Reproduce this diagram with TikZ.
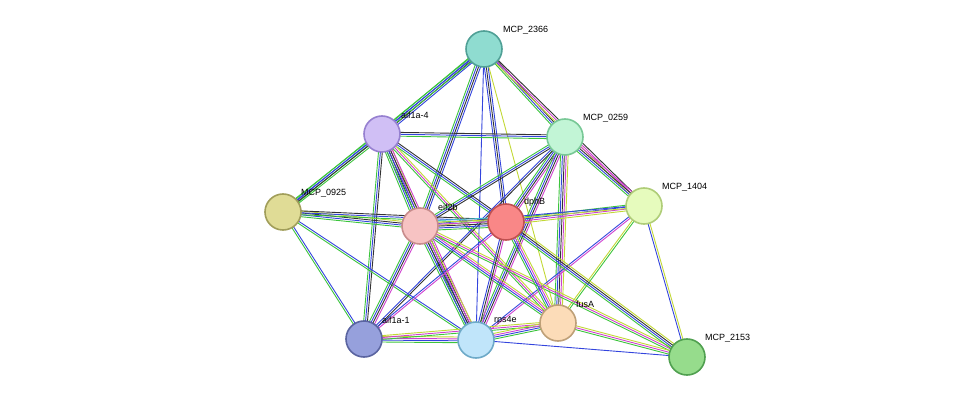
\documentclass[tikz,border=0pt]{standalone}
\usepackage{fontspec}
\setmainfont{Liberation Sans}
\usetikzlibrary{calc}
\pgfdeclarelayer{bg}
\pgfsetlayers{bg,main}
\definecolor{eg}{HTML}{3CC43C}
\definecolor{eb}{HTML}{3344DD}
\definecolor{ek}{HTML}{333333}
\definecolor{em}{HTML}{D040D0}
\definecolor{ey}{HTML}{C2D836}
\definecolor{ec}{HTML}{40C0D0}
\tikzset{
  prot/.style={circle,minimum size=36pt,inner sep=0pt,line width=1.6pt},
  lab/.style={font=\fontsize{9}{11}\selectfont,anchor=south west,inner sep=0pt},
  ed/.style={line width=0.9pt}
}
\newcommand{\edg}[3]{%
  \foreach \c [count=\i] in {#3} {\xdef\ncol{\i}}%
  \foreach \c [count=\i] in {#3} {%
    \pgfmathsetmacro{\off}{(\i-(\ncol+1)/2)*1.9}%
    \draw[ed,\c] ($(#1)!\off pt!90:(#2)$) -- ($(#2)!\off pt!-90:(#1)$);}%
}
\begin{document}
\begin{tikzpicture}[x=1pt,y=-1pt]
\useasboundingbox (0,0) rectangle (975,403);
\node[prot,draw={rgb,255:red,80;green,160;blue,150},fill={rgb,255:red,143;green,220;blue,208}] (m2366) at (484,49) {};
\node[prot,draw={rgb,255:red,150;green,128;blue,208},fill={rgb,255:red,208;green,191;blue,245}] (a4) at (382,134) {};
\node[prot,draw={rgb,255:red,120;green,200;blue,150},fill={rgb,255:red,194;green,245;blue,214}] (m0259) at (565,137) {};
\node[prot,draw={rgb,255:red,175;green,205;blue,120},fill={rgb,255:red,230;green,251;blue,189}] (m1404) at (644,206) {};
\node[prot,draw={rgb,255:red,161;green,158;blue,90},fill={rgb,255:red,224;green,220;blue,150}] (m0925) at (283,212) {};
\node[prot,draw={rgb,255:red,200;green,140;blue,140},fill={rgb,255:red,247;green,195;blue,195}] (eif) at (420,226) {};
\node[prot,draw={rgb,255:red,192;green,80;blue,80},fill={rgb,255:red,249;green,135;blue,135}] (dph) at (506,222) {};
\node[prot,draw={rgb,255:red,90;green,100;blue,160},fill={rgb,255:red,150;green,160;blue,220}] (a1) at (364,339) {};
\node[prot,draw={rgb,255:red,110;green,170;blue,200},fill={rgb,255:red,192;green,229;blue,250}] (rps) at (476,340) {};
\node[prot,draw={rgb,255:red,190;green,160;blue,120},fill={rgb,255:red,252;green,220;blue,184}] (fus) at (558,323) {};
\node[prot,draw={rgb,255:red,80;green,160;blue,80},fill={rgb,255:red,150;green,220;blue,140}] (m2153) at (687,357) {};
\begin{pgfonlayer}{bg}
\edg{m2366}{a4}{eg,eb,ek,eb}
\edg{m2366}{m0925}{eg,eb,eg}
\edg{m2366}{eif}{eg,eb,ek,eb}
\edg{m2366}{dph}{eb,ek,eb}
\edg{m2366}{rps}{eb}
\edg{m2366}{m0259}{eg,eb,ek}
\edg{m2366}{m1404}{ey,em,ek}
\edg{m2366}{fus}{ey}
\edg{a4}{m0259}{eg,eb,ek}
\edg{a4}{m0925}{eg,eb,ek,eg}
\edg{a4}{eif}{eg,eb,ek,em,ey}
\edg{a4}{dph}{eg,eb,ek}
\edg{a4}{a1}{eg,eb,ek}
\edg{a4}{rps}{eg,eb,ek,em}
\edg{a4}{fus}{eg,em,ey}
\edg{m0259}{m1404}{eg,eb,ek,em}
\edg{m0259}{dph}{eg,eb,ek,em}
\edg{m0259}{eif}{eg,eb,ek}
\edg{m0259}{rps}{eg,eb,ek,em}
\edg{m0259}{fus}{eg,eb,ek,em,ey}
\edg{m0259}{a1}{eb,ek}
\edg{m1404}{dph}{eg,eb,em,ey}
\edg{m1404}{eif}{eb,ey}
\edg{m1404}{fus}{ey,eg}
\edg{m1404}{rps}{eb,em}
\edg{m1404}{m2153}{eb,ey}
\edg{m0925}{eif}{eg,eb,ek,ey}
\edg{m0925}{dph}{eg,eb,ek}
\edg{m0925}{a1}{eg,eb}
\edg{m0925}{rps}{eg,eb}
\edg{eif}{dph}{eg,eb,ek,em,ey,ec}
\edg{eif}{a1}{eg,eb,ek,em}
\edg{eif}{rps}{eg,eb,ek,em,ey}
\edg{eif}{fus}{eg,eb,em,ey}
\edg{eif}{m2153}{eg,em,ey}
\edg{dph}{a1}{eb,em}
\edg{dph}{rps}{eb,ek,em}
\edg{dph}{fus}{eg,eb,em,ey}
\edg{dph}{m2153}{eg,eb,ek,ey}
\edg{a1}{rps}{eg,eb,em,ey}
\edg{a1}{fus}{eg,em,ey}
\edg{rps}{fus}{eg,eb,em,ey}
\edg{rps}{m2153}{eb}
\edg{fus}{m2153}{eg,em,ey}
\end{pgfonlayer}
\node[lab] (t1) at (503,34) {MCP\_2366};
\node[lab] (t2) at (401,119) {aif1a-4};
\node[lab] (t3) at (583,122) {MCP\_0259};
\node[lab] (t4) at (662,191) {MCP\_1404};
\node[lab] (t5) at (301,197) {MCP\_0925};
\node[lab] (t6) at (438,211) {eif2b};
\node[lab] (t7) at (524,207) {dphB};
\node[lab] (t8) at (382,324) {aif1a-1};
\node[lab] (t9) at (494,325) {rps4e};
\node[lab] (t10) at (576,308) {fusA};
\node[lab] (t11) at (705,342) {MCP\_2153};
\end{tikzpicture}
\end{document}
